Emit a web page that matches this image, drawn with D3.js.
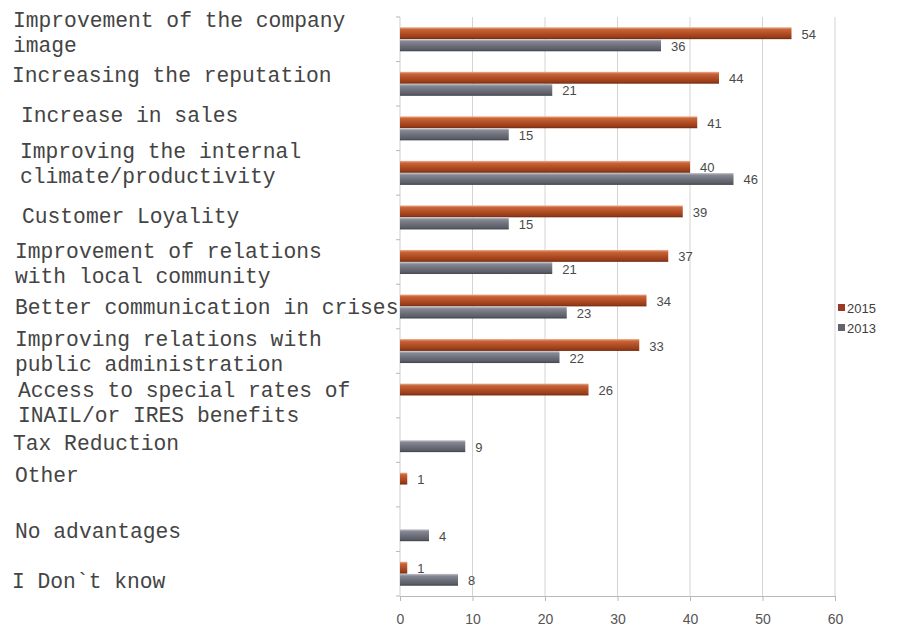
<!DOCTYPE html>
<html>
<head>
<meta charset="utf-8">
<script src="https://cdn.jsdelivr.net/npm/d3@7"></script>
<style>
  html, body { margin: 0; padding: 0; background: #fff; }
  svg { display: block; }
</style>
</head>
<body>
<svg id="chart" width="921" height="631"></svg>
<script>
// Advantages perceived by companies, survey 2015 vs 2013 (%)
const categories = [
  "Improvement of the company\nimage",
  "Increasing the reputation",
  "Increase in sales",
  "Improving the internal\nclimate/productivity",
  "Customer Loyality",
  "Improvement of relations\nwith local community",
  "Better communication in crises",
  "Improving relations with\npublic administration",
  "Access to special rates of\nINAIL/or IRES benefits",
  "Tax Reduction",
  "Other",
  "No advantages",
  "I Don`t know"
];
const seriesNames = ["2015", "2013"];
const values2015 = [54, 44, 41, 40, 39, 37, 34, 33, 26, null, 1, null, 1];
const values2013 = [36, 21, 15, 46, 15, 21, 23, 22, null, 9, null, 4, 8];
const xTicks = [0, 10, 20, 30, 40, 50, 60];

// Left-hand label nudges [dx, dy] relative to the category band centre
const labelNudge = [
  [13, -7], [12, -9], [21, -13], [20, -9], [22, -1], [15, 2], [15, 0],
  [15, 0], [18, 7], [13, 3], [15, -10], [15, 2], [12, 7]
];

const svg = d3.select("#chart");
const plot = { left: 400, right: 835, top: 17, bottom: 596 };

const x = d3.scaleLinear().domain([0, 60]).range([plot.left, plot.right]);
const y = d3.scaleBand().domain(categories).range([plot.top, plot.bottom])
  .paddingInner(0.45).paddingOuter(0.225);
const ySub = d3.scaleBand().domain(seriesNames).range([0, y.bandwidth()]).padding(0.02);

// Bar gradients (bevelled look)
const defs = svg.append("defs");
function grad(id, stops) {
  const g = defs.append("linearGradient").attr("id", id)
    .attr("x1", 0).attr("y1", 0).attr("x2", 0).attr("y2", 1);
  stops.forEach(([o, c]) => g.append("stop").attr("offset", o).attr("stop-color", c));
}
grad("g2015", [[0, "#f0b08e"], [0.18, "#c8643a"], [0.55, "#b04c22"], [0.85, "#963c1a"], [1, "#6e2a10"]]);
grad("g2013", [[0, "#c4c7ce"], [0.18, "#858893"], [0.55, "#6c6f79"], [0.85, "#5a5d66"], [1, "#3e4048"]]);
const fills = { "2015": "url(#g2015)", "2013": "url(#g2013)" };
const legendColors = { "2015": "#9a3a24", "2013": "#62646c" };

// Vertical gridlines
svg.append("g").selectAll("line").data(xTicks.slice(1)).join("line")
  .attr("x1", d => x(d)).attr("x2", d => x(d))
  .attr("y1", plot.top).attr("y2", plot.bottom)
  .attr("stroke", "#d4d4d4").attr("stroke-width", 1);

// Category axis (left) with ticks at band boundaries
const bandEdges = categories.map((c, i) => plot.top + i * y.step()).concat([plot.bottom]);
svg.append("line").attr("x1", plot.left).attr("x2", plot.left)
  .attr("y1", plot.top).attr("y2", plot.bottom).attr("stroke", "#cfcfcf");
svg.append("g").selectAll("line").data(bandEdges).join("line")
  .attr("x1", plot.left - 4).attr("x2", plot.left)
  .attr("y1", d => d).attr("y2", d => d).attr("stroke", "#b8b8b8");

// Value axis (bottom)
const xAxis = svg.append("g").attr("transform", `translate(0,${plot.bottom})`)
  .call(d3.axisBottom(x).tickValues(xTicks).tickSize(5).tickPadding(13));
xAxis.select(".domain").attr("stroke", "#b8b8b8");
xAxis.selectAll(".tick line").attr("stroke", "#b8b8b8");
xAxis.selectAll("text").attr("font-family", "Arial, 'Liberation Sans', sans-serif")
  .attr("font-size", 14).attr("fill", "#555");

// Bars
const rows = categories.map((c, i) => ({
  cat: c,
  items: [
    { s: "2015", v: values2015[i] },
    { s: "2013", v: values2013[i] }
  ].filter(d => d.v !== null)
}));

const groups = svg.append("g").selectAll("g").data(rows).join("g")
  .attr("transform", d => `translate(0,${y(d.cat)})`);

groups.selectAll("rect").data(d => d.items).join("rect")
  .attr("x", x(0))
  .attr("y", d => ySub(d.s))
  .attr("width", d => x(d.v) - x(0))
  .attr("height", ySub.bandwidth())
  .attr("fill", d => fills[d.s]);

groups.selectAll("text").data(d => d.items).join("text")
  .attr("x", d => x(d.v) + 10)
  .attr("y", d => ySub(d.s) + ySub.bandwidth() / 2 + 1)
  .attr("dy", "0.35em")
  .attr("font-family", "Arial, 'Liberation Sans', sans-serif")
  .attr("font-size", 13)
  .attr("fill", "#4a4a4a")
  .text(d => d.v);

// Category labels
const lab = svg.append("g").selectAll("text").data(categories).join("text")
  .attr("font-family", "'Liberation Mono', 'Courier New', monospace")
  .attr("font-size", 21.3)
  .attr("fill", "#444")
  .attr("transform", (d, i) => {
    const lines = d.split("\n").length;
    const cy = y(d) + y.bandwidth() / 2 + labelNudge[i][1] - (lines - 1) * 12.5;
    return `translate(${labelNudge[i][0]},${cy})`;
  });
lab.each(function(d) {
  d3.select(this).selectAll("tspan").data(d.split("\n")).join("tspan")
    .attr("x", 0).attr("y", (t, j) => j * 25).attr("dy", "0.33em").text(t => t);
});

// Legend
const legend = svg.append("g").selectAll("g").data(seriesNames).join("g")
  .attr("transform", (d, i) => `translate(838,${308 + i * 20})`);
legend.append("rect").attr("x", 0).attr("y", -4).attr("width", 7).attr("height", 7)
  .attr("fill", d => legendColors[d]);
legend.append("text").attr("x", 9).attr("y", 0).attr("dy", "0.35em")
  .attr("font-family", "Arial, 'Liberation Sans', sans-serif")
  .attr("font-size", 13).attr("fill", "#404040").text(d => d);
</script>
</body>
</html>
